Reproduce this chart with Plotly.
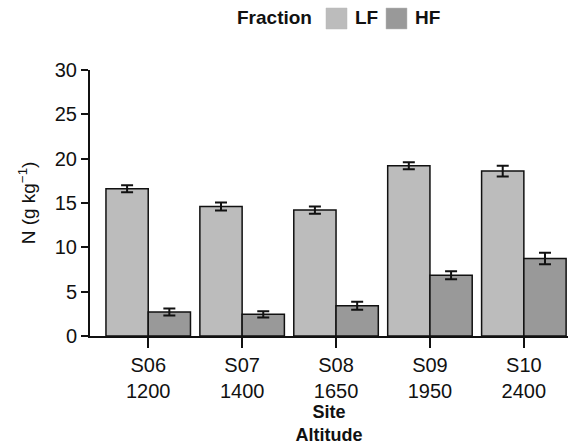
import plotly.graph_objects as go

sites = ["S06", "S07", "S08", "S09", "S10"]
altitudes = ["1200", "1400", "1650", "1950", "2400"]
lf_values = [16.6, 14.6, 14.2, 19.2, 18.6]
lf_errors = [0.4, 0.45, 0.4, 0.4, 0.6]
hf_values = [2.7, 2.45, 3.4, 6.85, 8.75]
hf_errors = [0.4, 0.35, 0.45, 0.45, 0.65]
yticks = [0, 5, 10, 15, 20, 25, 30]
fractions = ["LF", "HF"]
colors = {"LF": "#bcbcbc", "HF": "#999999"}

cats = [f"{s}<br>{a}" for s, a in zip(sites, altitudes)]
font = "Liberation Sans, Arial, sans-serif"

# plot area in pixels (for legend placement in paper coords)
L, R, T, B = 90, 568, 70, 336
def px(x):
    return (x - L) / (R - L)
def py(y):
    return (B - y) / (B - T)

fig = go.Figure()
for name, vals, errs in [("LF", lf_values, lf_errors), ("HF", hf_values, hf_errors)]:
    fig.add_trace(go.Bar(
        x=cats, y=vals, name=name, showlegend=False,
        marker=dict(color=colors[name], line=dict(color="#111111", width=1.5)),
        error_y=dict(type="data", array=errs, color="#111111", thickness=2, width=6),
    ))

# legend drawn as shapes + text
anns = [dict(text="<b>Fraction</b>", x=px(314), y=py(18), xref="paper", yref="paper",
             xanchor="right", yanchor="middle", showarrow=False, font=dict(size=19))]
shapes = []
sq = [(326, 347), (386, 407)]
for (x0, x1), name in zip(sq, fractions):
    shapes.append(dict(type="rect", xref="paper", yref="paper",
                       x0=px(x0), x1=px(x1), y0=py(29), y1=py(8),
                       fillcolor=colors[name], line=dict(color="#bbbbbb", width=0.5)))
    anns.append(dict(text=f"<b>{name}</b>", x=px(x1 + 6), y=py(18), xref="paper", yref="paper",
                     xanchor="left", yanchor="middle", showarrow=False, font=dict(size=19)))

fig.update_layout(
    width=578, height=446,
    margin=dict(l=L, r=578 - R, t=T, b=446 - B, autoexpand=False),
    paper_bgcolor="white", plot_bgcolor="white",
    barmode="group", bargap=0.1, bargroupgap=0,
    font=dict(family=font, size=18, color="#111111"),
    showlegend=False,
    annotations=anns, shapes=shapes,
    xaxis=dict(
        showline=True, linecolor="#111111", linewidth=2, automargin=False,
        ticks="outside", ticklen=10, tickwidth=2, tickcolor="#111111",
        range=[-0.62, 4.47],
        title=dict(text="<b>Site<br>Altitude</b>", font=dict(size=18), standoff=2),
        tickfont=dict(size=20),
    ),
    yaxis=dict(
        showline=True, linecolor="#111111", linewidth=2, automargin=False,
        ticks="outside", ticklen=7, tickwidth=2, tickcolor="#111111",
        range=[0, 30], tickvals=yticks, showgrid=False, zeroline=False,
        title=dict(text="N (g kg<sup>−1</sup>)", font=dict(size=19), standoff=14),
        tickfont=dict(size=20),
    ),
)

fig.write_html("out.html")
